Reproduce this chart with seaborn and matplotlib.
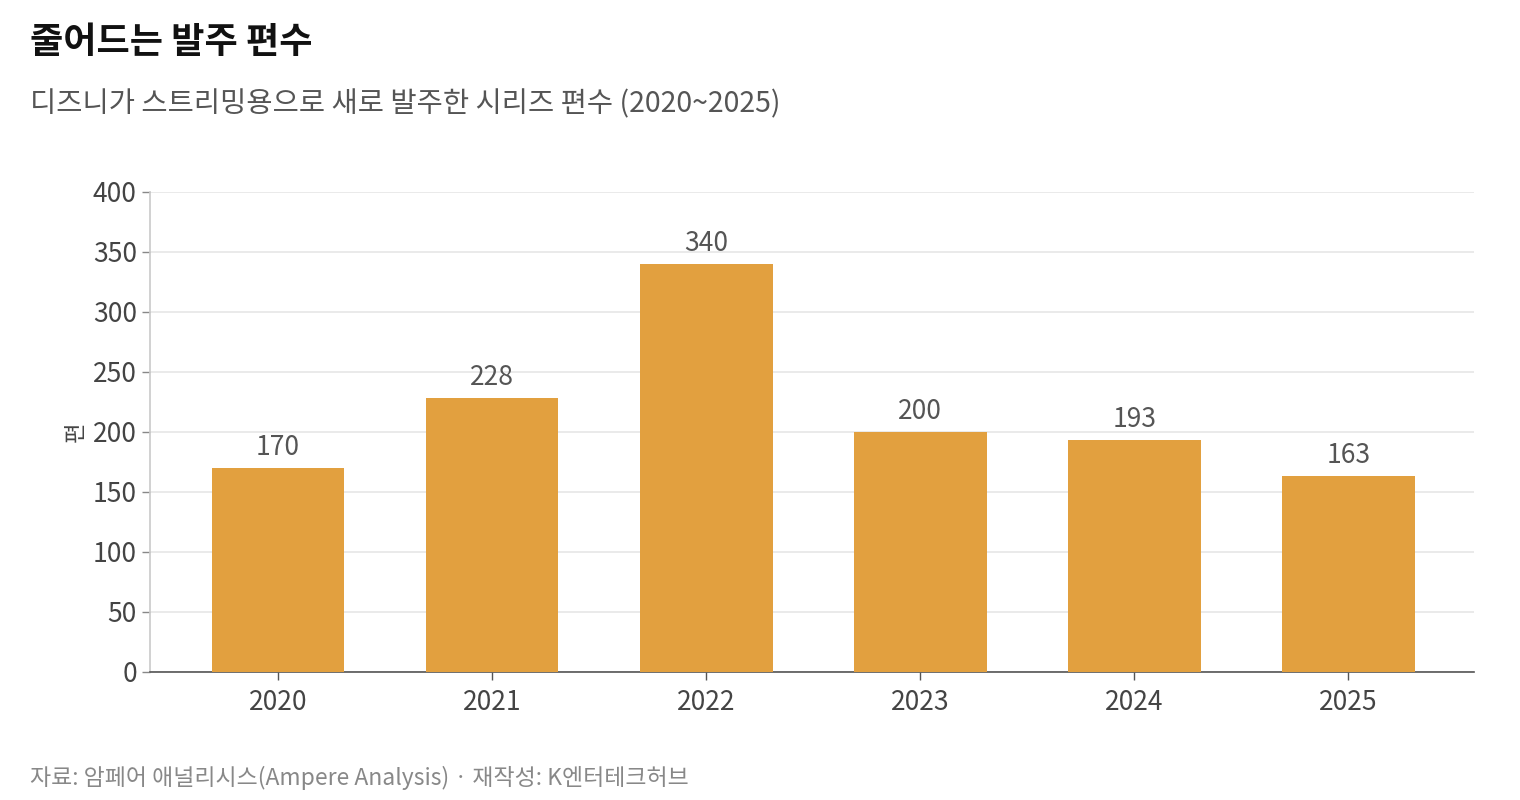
import matplotlib
matplotlib.use('Agg')
from matplotlib import pyplot as plt
import seaborn as sns
import pandas as pd

years = ['2020', '2021', '2022', '2023', '2024', '2025']
counts = [170, 228, 340, 200, 193, 163]

sns.set_theme(style='white')
plt.rcParams['font.family'] = ['Noto Sans CJK KR', 'DejaVu Sans']

df = pd.DataFrame({'year': years, 'count': counts})

fig = plt.figure(figsize=(15.2, 8), dpi=100)
ax = fig.add_axes([0.0987, 0.16, 0.8713, 0.60])

sns.barplot(data=df, x='year', y='count', color='#E2A03F', width=0.62,
            saturation=1, linewidth=0, ax=ax, zorder=3)

for i, v in enumerate(counts):
    ax.text(i, v + 6, str(v), ha='center', va='bottom', fontsize=19, color='#555555')

ax.set_ylim(0, 400)
ax.set_yticks(range(0, 401, 50))
ax.set_xlim(-0.598, 5.589)
ax.grid(axis='y', color='#e6e6e6', linewidth=1.2, zorder=0)
ax.set_xlabel('')
ax.set_ylabel('편', fontsize=16, color='#444444', labelpad=4)
for s in ['top', 'right']:
    ax.spines[s].set_visible(False)
ax.spines['left'].set_color('#cccccc')
ax.spines['bottom'].set_color('#555555')
ax.spines['bottom'].set_linewidth(1.2)
ax.tick_params(axis='both', labelsize=19, colors='#444444', length=6, width=1,
               left=True, bottom=True)
ax.tick_params(axis='y', color='#888888')
ax.tick_params(axis='x', color='#555555', pad=6)

fig.text(0.02, 0.9475, '줄어드는 발주 편수', fontsize=26, fontweight='bold',
         color='#111111', va='center')
fig.text(0.02, 0.87, '디즈니가 스트리밍용으로 새로 발주한 시리즈 편수 (2020~2025)',
         fontsize=20.5, color='#555555', va='center')
fig.text(0.02, 0.0275, '자료: 암페어 애널리시스(Ampere Analysis) · 재작성: K엔터테크허브',
         fontsize=16.5, color='#888888', va='center')

fig.savefig('out.png', dpi=100)
